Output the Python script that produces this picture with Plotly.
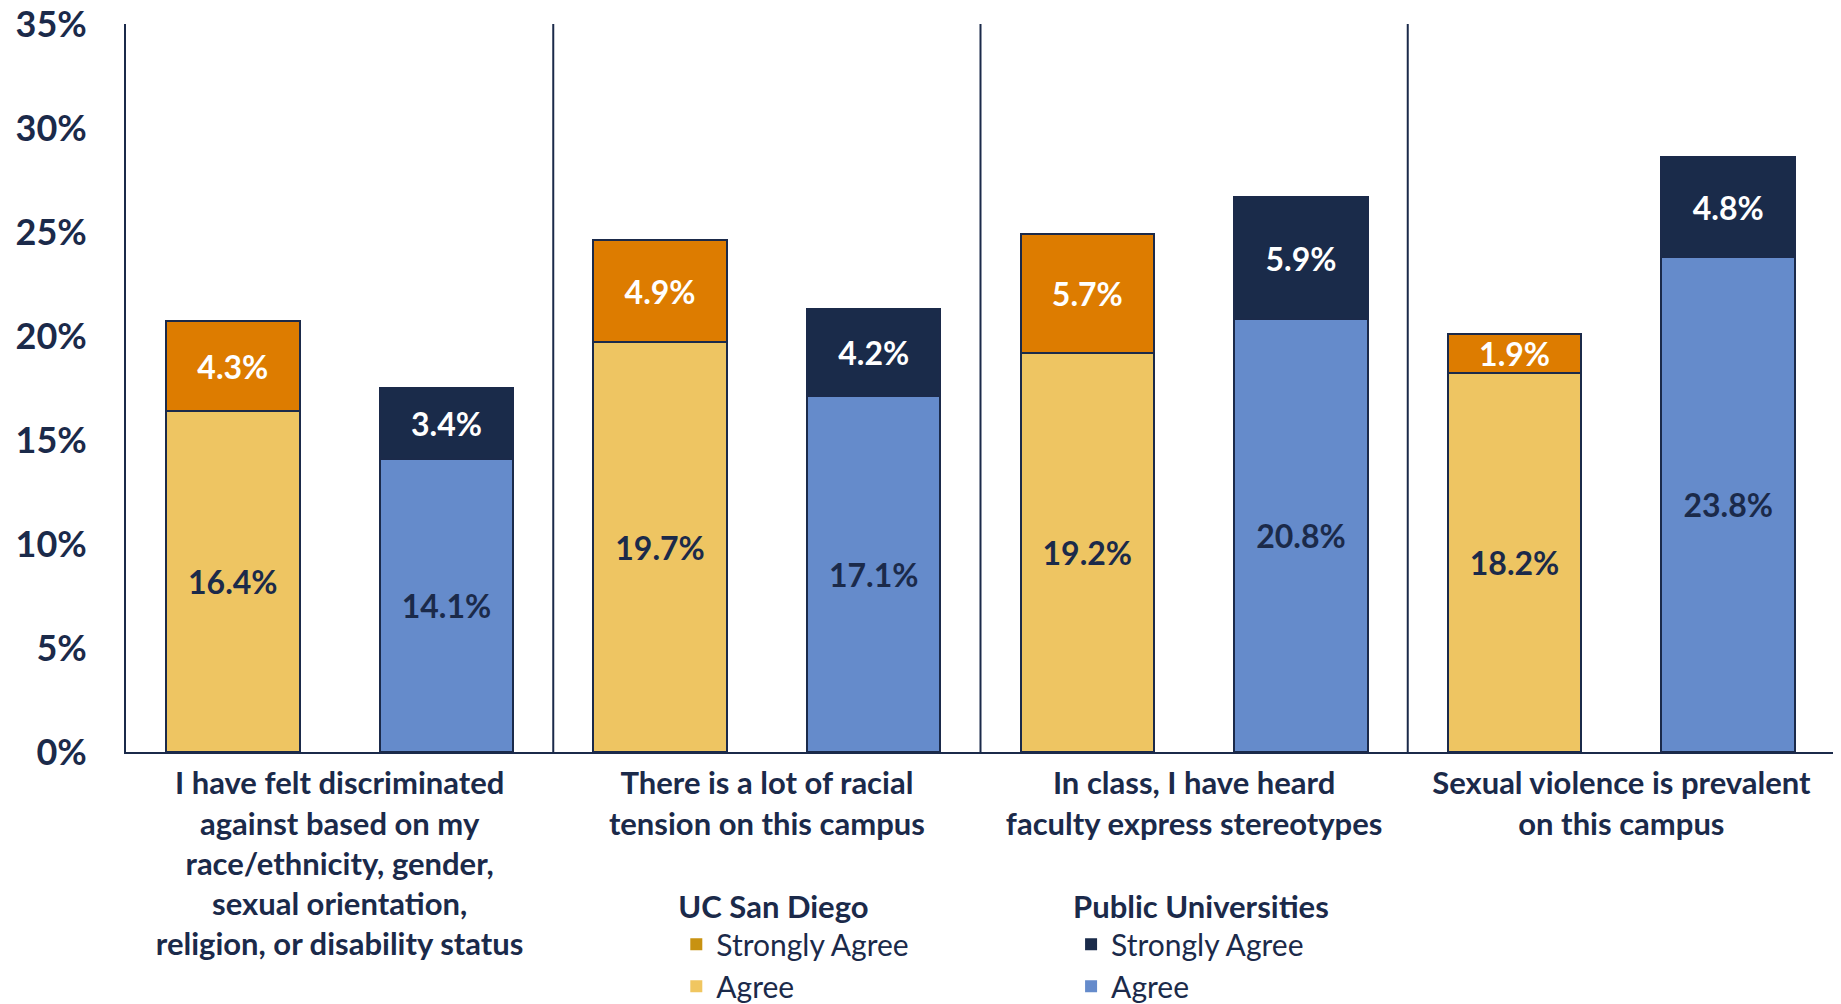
import plotly.graph_objects as go

NAVY = "#1B2A4A"
FONT = "Lato"

categories = [
    "I have felt discriminated<br>against based on my<br>race/ethnicity, gender,<br>sexual orientation,<br>religion, or disability status",
    "There is a lot of racial<br>tension on this campus",
    "In class, I have heard<br>faculty express stereotypes",
    "Sexual violence is prevalent<br>on this campus",
]
ucsd_agree = [16.4, 19.7, 19.2, 18.2]
ucsd_strong = [4.3, 4.9, 5.7, 1.9]
public_agree = [14.1, 17.1, 20.8, 23.8]
public_strong = [3.4, 4.2, 5.9, 4.8]
y_ticks = [0, 5, 10, 15, 20, 25, 30, 35]

# each category spans 4 x-units: UCSD bar at +1, public bar at +3
ucsd_x = [4 * i + 1 for i in range(len(categories))]
public_x = [4 * i + 3 for i in range(len(categories))]
label_x = [4 * i + 2 for i in range(len(categories))]

def seg(x, vals, color, txtcolor):
    return go.Bar(
        x=x, y=vals, width=1.25,
        marker=dict(color=color, line=dict(color=NAVY, width=2)),
        text=[f"{v:.1f}%" for v in vals], textposition="inside",
        insidetextanchor="middle", textangle=0,
        textfont=dict(family=FONT, size=32, color=txtcolor, weight="bold"),
        hoverinfo="skip", showlegend=False,
    )

def legend_key(name, color, legend):
    return go.Bar(x=[None], y=[None], name=name, legend=legend,
                  marker=dict(color=color, line=dict(width=0)))

fig = go.Figure()
fig.add_trace(seg(ucsd_x, ucsd_agree, "#EEC562", NAVY))
fig.add_trace(seg(ucsd_x, ucsd_strong, "#DD7C00", "white"))
fig.add_trace(seg(public_x, public_agree, "#658BCB", NAVY))
fig.add_trace(seg(public_x, public_strong, "#1A2B4A", "white"))

fig.add_trace(legend_key("Agree", "#F0C660", "legend"))
fig.add_trace(legend_key("Strongly Agree", "#C89211", "legend"))
fig.add_trace(legend_key("Agree", "#658BCB", "legend2"))
fig.add_trace(legend_key("Strongly Agree", "#1A2B4A", "legend2"))

# separators between categories
for k in range(1, len(categories)):
    fig.add_shape(type="line", xref="x", yref="y", x0=4 * k, x1=4 * k,
                  y0=0, y1=35, line=dict(color=NAVY, width=2))

leg = dict(orientation="v", traceorder="reversed", yanchor="top",
           bgcolor="rgba(0,0,0,0)", font=dict(family=FONT, size=30, color=NAVY),
           tracegroupgap=0, itemclick=False)

# page body has an 8px margin, so the figure is 8px smaller than the window
fig.update_layout(
    width=1833, height=996,
    barmode="stack",
    plot_bgcolor="white", paper_bgcolor="white",
    margin=dict(l=118, r=6, t=16, b=252, autoexpand=False),
    font=dict(family=FONT, color=NAVY),
    uniformtext=dict(minsize=32, mode="show"),
    legend=dict(leg, x=0.322, y=-0.173,
                title=dict(text="<b>UC San Diego</b>", font=dict(family=FONT, size=31, color=NAVY))),
    legend2=dict(leg, x=0.553, y=-0.173,
                 title=dict(text="<b>Public Universities</b>", font=dict(family=FONT, size=31, color=NAVY))),
    xaxis=dict(range=[0, 16], tickvals=label_x, ticktext=categories, automargin=False,
               showgrid=False, zeroline=False, showline=True, linecolor=NAVY, linewidth=2,
               ticks="", ticklabelstandoff=3,
               tickfont=dict(family=FONT, size=31, color=NAVY, weight="bold")),
    yaxis=dict(range=[0, 35], tickvals=y_ticks, ticktext=[f"{t}%" for t in y_ticks],
               automargin=False, ticklabeloverflow="allow",
               showgrid=False, zeroline=False, showline=True, mirror=True,
               linecolor=NAVY, linewidth=2, ticks="", ticklabelstandoff=30,
               tickfont=dict(family=FONT, size=36, color=NAVY, weight="bold")),
)

fig.write_html("out.html")
